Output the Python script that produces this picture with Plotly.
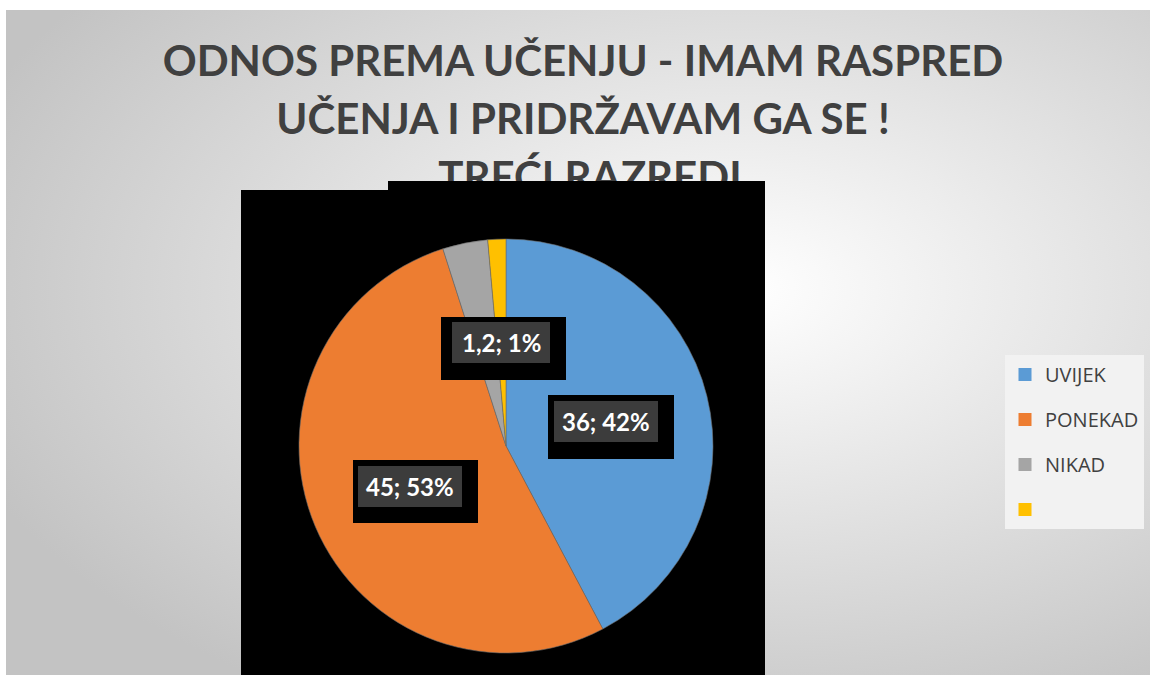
import base64
import plotly.graph_objects as go

# ---- data ----
categories = ["UVIJEK", "PONEKAD", "NIKAD", " "]
values = [36, 45, 3, 1.2]
colors = ["#5b9bd5", "#ed7d31", "#a5a5a5", "#ffc000"]
title_lines = ["ODNOS PREMA UČENJU - IMAM RASPRED", "UČENJA I PRIDRŽAVAM GA SE !", "TREĆI RAZREDI"]
labelled = ["UVIJEK", "PONEKAD", " "]  # slices whose data labels are visible

W, H = 1152, 675
total = sum(values)

def fmt(v):
    return f"{v:g}".replace(".", ",")

fig = go.Figure()

# background gradient (SVG)
svg = ('<svg xmlns="http://www.w3.org/2000/svg" width="1144" height="665">'
       '<defs><radialGradient id="g" cx="0.64" cy="0.42" r="0.72">'
       '<stop offset="0" stop-color="#ffffff"/><stop offset="1" stop-color="#c3c3c3"/>'
       '</radialGradient></defs><rect width="1144" height="665" fill="url(#g)"/></svg>')
src = "data:image/svg+xml;base64," + base64.b64encode(svg.encode()).decode()

# title lines as text traces (so that the black block can cover them)
title_y = [65, 123, 181]
title_x = [583, 583, 590]
for t, xx, yy in zip(title_lines, title_x, title_y):
    fig.add_trace(go.Scatter(x=[xx], y=[yy], mode="text", text=[t], showlegend=False,
                             hoverinfo="skip",
                             textfont=dict(family="Lato", size=42, color="#404040", weight="bold")))

# black block behind the pie
fig.add_trace(go.Scatter(x=[241, 388, 388, 765, 765, 241, 241],
                         y=[190, 190, 181, 181, 675, 675, 190],
                         mode="lines", fill="toself", fillcolor="black",
                         line=dict(width=0, color="black"), showlegend=False, hoverinfo="skip"))

# pie
cx, cy, r = 506, 446, 207
fig.add_trace(go.Pie(labels=categories, values=values, sort=False, direction="clockwise",
                     rotation=0, textinfo="none", showlegend=False,
                     marker=dict(colors=colors, line=dict(width=0.6, color="#6b6b6b")),
                     domain=dict(x=[(cx - r) / W, (cx + r) / W],
                                 y=[1 - (cy + r) / H, 1 - (cy - r) / H])))

# legend entries
for i, (c, col) in enumerate(zip(categories, colors)):
    fig.add_trace(go.Scatter(x=[None], y=[None], mode="markers", name=c,
                             legendgroup=f"g{i}",
                             marker=dict(symbol="square", size=13, color=col)))

# data labels
outer = {"UVIJEK": (548, 395, 674, 459), "PONEKAD": (353, 460, 478, 523), " ": (441, 317, 566, 380)}
inner = {"UVIJEK": (554, 401, 658, 442), "PONEKAD": (358, 466, 462, 507), " ": (452, 322, 550, 363)}
shapes = []
annotations = []
for c in labelled:
    v = values[categories.index(c)]
    pct = round(v / total * 100)
    ox0, oy0, ox1, oy1 = outer[c]
    ix0, iy0, ix1, iy1 = inner[c]
    shapes.append(dict(type="rect", xref="x", yref="y", x0=ox0, y0=oy0, x1=ox1, y1=oy1,
                       fillcolor="black", line=dict(width=0), layer="above"))
    shapes.append(dict(type="rect", xref="x", yref="y", x0=ix0, y0=iy0, x1=ix1, y1=iy1,
                       fillcolor="#3c3c3c", line=dict(width=0), layer="above"))
    annotations.append(dict(xref="x", yref="y", x=(ix0 + ix1) / 2, y=(iy0 + iy1) / 2,
                            text=f"{fmt(v)}; {pct}%", showarrow=False,
                            font=dict(family="Lato", size=24, color="white", weight="bold")))

fig.update_layout(
    width=W, height=H,
    margin=dict(l=0, r=0, t=0, b=0),
    paper_bgcolor="white", plot_bgcolor="rgba(0,0,0,0)",
    xaxis=dict(range=[0, W], visible=False, domain=[0, 1], fixedrange=True),
    yaxis=dict(range=[H, 0], visible=False, domain=[0, 1], fixedrange=True),
    images=[dict(source=src, xref="paper", yref="paper", x=6 / W, y=1 - 10 / H,
                 sizex=1144 / W, sizey=665 / H, sizing="stretch", layer="below",
                 xanchor="left", yanchor="top")],
    shapes=shapes, annotations=annotations,
    legend=dict(x=1005 / W, y=1 - 355 / H, xanchor="left", yanchor="top",
                bgcolor="#f2f2f2", font=dict(family="Open Sans", size=20, color="#404040"),
                tracegroupgap=16, itemwidth=30),
    showlegend=True,
)

fig.write_html("out.html", config={"displayModeBar": False},
               post_script="document.body.style.margin='0';document.body.style.overflow='hidden';")
